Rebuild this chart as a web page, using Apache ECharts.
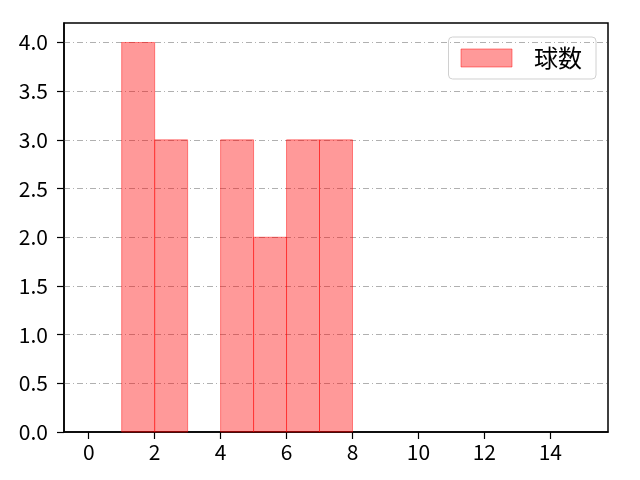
<!doctype html>
<html>
<head>
    <meta charset="utf-8">
    <title>球数</title>
    <script src="https://cdn.jsdelivr.net/npm/echarts@6/dist/echarts.min.js"></script>
    <style>
        html, body { margin: 0; padding: 0; background: #fff; }
        #Chart { width: 640px; height: 480px; }
    </style>
</head>
<body>
    <div id="Chart"></div>
<script>
    // histogram bins (left edge, right edge) and counts
    var binStart = [1, 2, 4, 5, 6, 7];
    var binEnd = [2, 3, 5, 6, 7, 8];
    var counts = [4, 3, 3, 2, 3, 3];
    var xTicks = [0, 2, 4, 6, 8, 10, 12, 14];
    var seriesName = '球数';

    var FONT = '"Noto Sans CJK JP", "DejaVu Sans", sans-serif';

    var data = [];
    for (var i = 0; i < counts.length; i++) {
        data.push([binStart[i], binEnd[i], counts[i]]);
    }

    function renderBin(params, api) {
        var p0 = api.coord([api.value(0), api.value(2)]);
        var p1 = api.coord([api.value(1), 0]);
        return {
            type: 'rect',
            shape: { x: p0[0], y: p0[1], width: p1[0] - p0[0], height: p1[1] - p0[1] },
            style: {
                fill: 'rgba(255,0,0,0.4)',
                stroke: 'rgba(255,0,0,0.45)',
                lineWidth: 1
            }
        };
    }

    var myChart = echarts.init(document.getElementById('Chart'));
    var option = {
        animation: false,
        grid: { left: 64, right: 32, top: 23, bottom: 48, show: true, borderColor: '#000', borderWidth: 1.5, backgroundColor: 'transparent' },
        legend: {
            right: 44,
            top: 37,
            padding: [9, 14, 9, 12],
            itemWidth: 51,
            itemHeight: 18,
            itemGap: 0,
            borderColor: '#d0d0d0',
            borderWidth: 1,
            borderRadius: 4,
            textStyle: { fontSize: 24, color: '#000', fontFamily: FONT, padding: [0, 0, 0, 17] },
            data: [{ name: seriesName, icon: 'rect', itemStyle: { color: 'rgba(255,0,0,0.4)', borderColor: 'rgba(255,0,0,0.45)', borderWidth: 1 } }]
        },
        xAxis: {
            type: 'value',
            min: -0.75,
            max: 15.75,
            axisLine: { show: true, onZero: false, lineStyle: { color: '#000', width: 1.5 } },
            axisTick: { show: true, length: 7, customValues: xTicks, lineStyle: { color: '#000', width: 1.2 } },
            axisLabel: {
                fontSize: 21, color: '#000', fontFamily: FONT, margin: 10,
                customValues: xTicks
            },
            splitLine: { show: false }
        },
        yAxis: {
            type: 'value',
            min: 0,
            max: 4.2,
            interval: 0.5,
            axisLine: { show: true, onZero: false, lineStyle: { color: '#000', width: 1.5 } },
            axisTick: { show: true, length: 7, lineStyle: { color: '#000', width: 1.2 } },
            axisLabel: {
                fontSize: 21, color: '#000', fontFamily: FONT, margin: 16,
                showMaxLabel: false,
                formatter: function (v) { return v.toFixed(1); }
            },
            splitLine: { show: true, showMinLine: false, showMaxLine: false, lineStyle: { color: '#b0b0b0', width: 1, type: [6, 3, 1, 3] } }
        },
        series: [{
            name: seriesName,
            type: 'custom',
            renderItem: renderBin,
            encode: { x: [0, 1], y: 2 },
            itemStyle: { color: 'rgba(255,0,0,0.4)' },
            data: data
        }]
    };
    myChart.setOption(option);
</script>
</body>
</html>
